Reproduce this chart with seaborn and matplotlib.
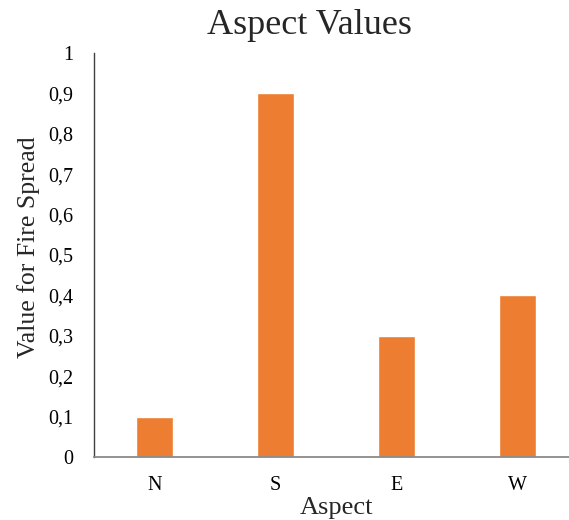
import matplotlib
matplotlib.use("Agg")
import matplotlib.pyplot as plt
import seaborn as sns
import pandas as pd

categories = ["N", "S", "E", "W"]
values = [0.1, 0.9, 0.3, 0.4]
yticks = [0, 0.1, 0.2, 0.3, 0.4, 0.5, 0.6, 0.7, 0.8, 0.9, 1.0]
ytick_labels = ["0", "0,1", "0,2", "0,3", "0,4", "0,5", "0,6", "0,7", "0,8", "0,9", "1"]

sns.set_style("white")
plt.rcParams["font.family"] = ["Liberation Serif", "DejaVu Serif"]

df = pd.DataFrame({"Aspect": categories, "Value": values})

fig = plt.figure(figsize=(5.69, 5.20), dpi=100)
ax = fig.add_axes([94/569, 1-457/520, 484/569, (457-53)/520])
sns.barplot(data=df, x="Aspect", y="Value", color="#ED7D31", width=0.31,
            saturation=1, ax=ax)
ax.set_xlim(-0.5, 3.5)
ax.set_ylim(0, 1)
ax.set_yticks(yticks)
ax.set_yticklabels(ytick_labels)
ax.tick_params(axis="both", length=0, labelsize=14.5, colors="black")
ax.tick_params(axis="y", pad=15)
ax.tick_params(axis="x", pad=14)
for s in ["top", "right"]:
    ax.spines[s].set_visible(False)
ax.spines["left"].set_color("#404040")
ax.spines["left"].set_linewidth(1.0)
ax.spines["bottom"].set_color("#8a8a8a")
ax.spines["bottom"].set_linewidth(1.3)
ax.set_xlabel("Aspect", fontsize=19, labelpad=1)
ax.set_ylabel("Value for Fire Spread", fontsize=18.5)
ax.yaxis.set_label_coords(-0.112, 0.52)
fig.suptitle("Aspect Values", x=309/569, y=1-9/520, va="top", fontsize=26)
fig.savefig("out.png", dpi=100)
